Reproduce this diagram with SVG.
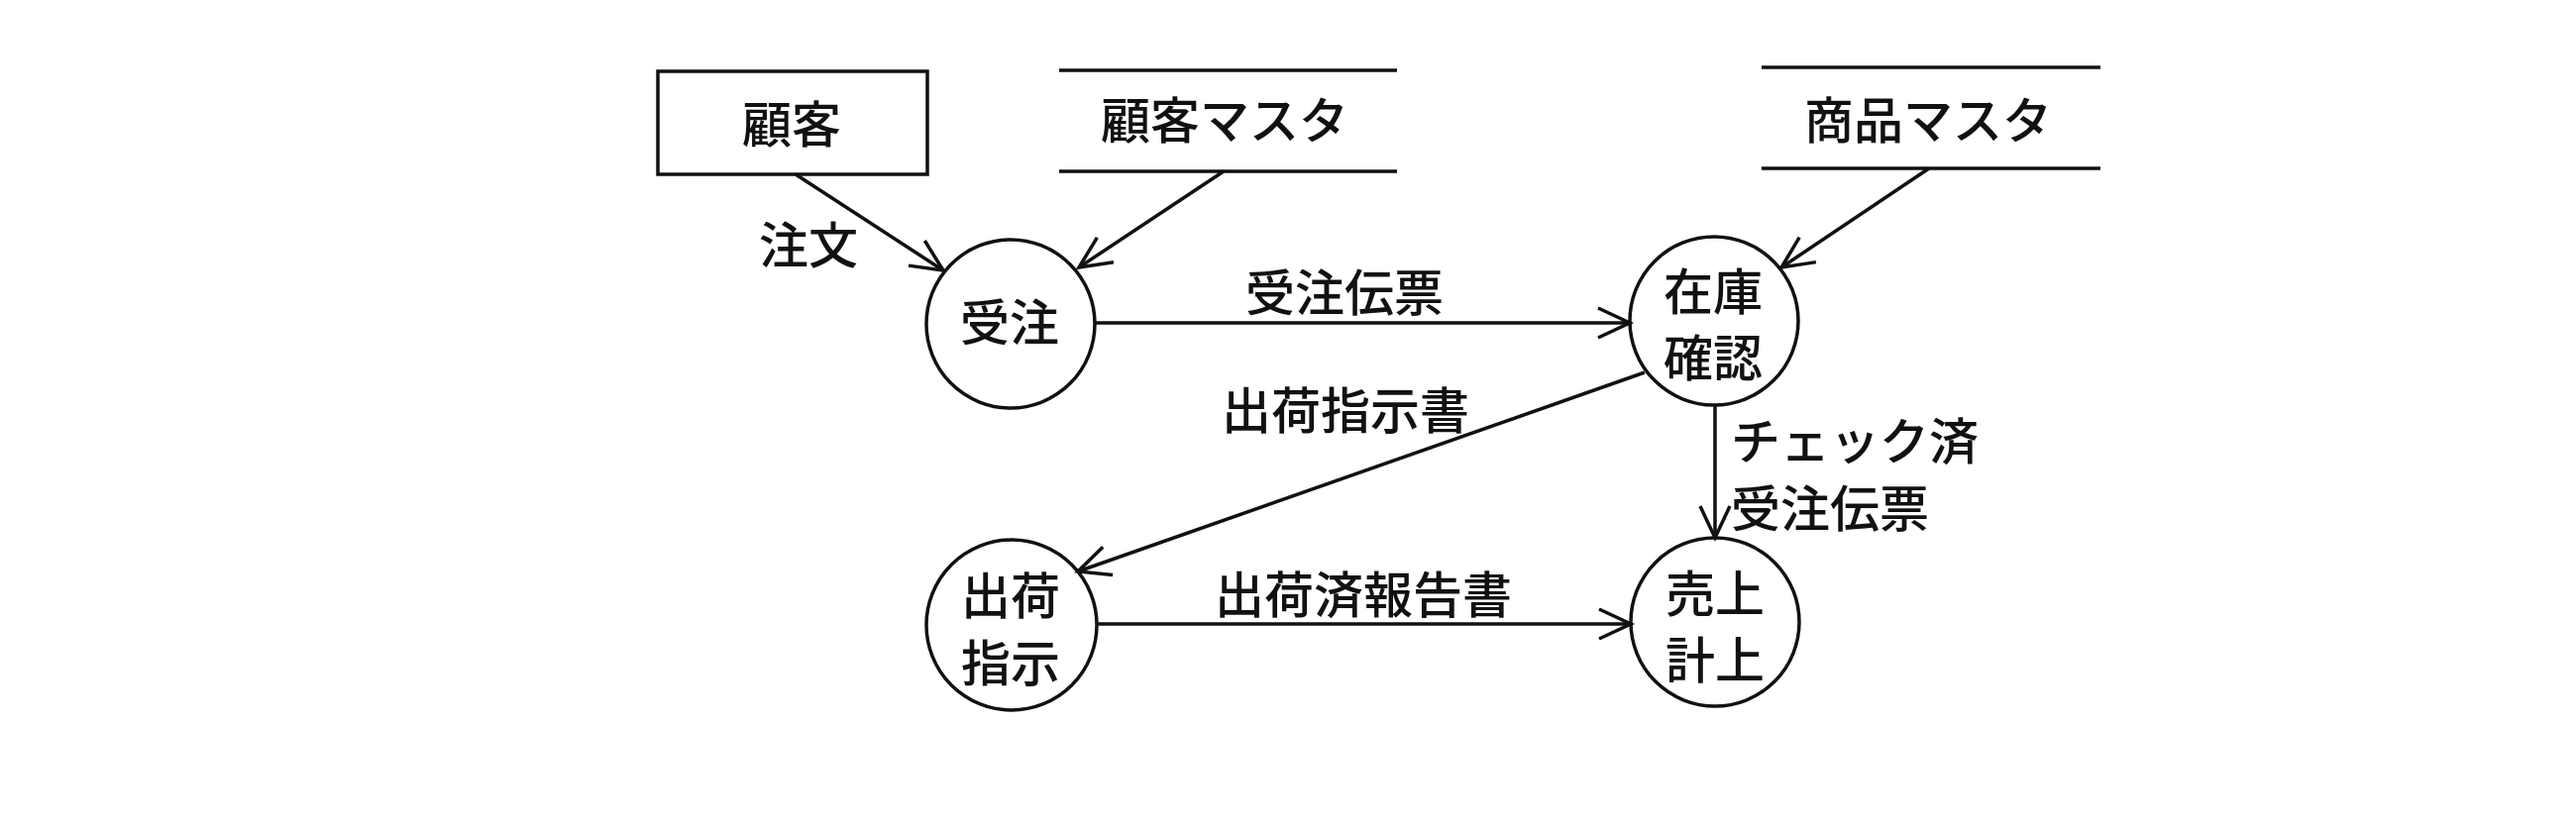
<svg xmlns="http://www.w3.org/2000/svg" width="2600" height="836" viewBox="0 0 2600 836">
  <style>
    .shape { fill: none; stroke: #111; stroke-width: 3.5; }
    .line { fill: none; stroke: #111; stroke-width: 3.5; }
    .conn { fill: none; stroke: #111; stroke-width: 3.5; marker-end: url(#arrow); }
    text { font-family: "Noto Sans CJK JP", "Noto Sans", sans-serif; font-size: 50px; font-weight: 500; fill: #111; dominant-baseline: central; }
    .c { text-anchor: middle; }
    .l { text-anchor: start; }
  </style>
  <defs>
    <marker id="arrow" markerUnits="userSpaceOnUse" viewBox="-40 -20 46 40" refX="0" refY="0" markerWidth="46" markerHeight="40" orient="auto">
      <path d="M -32 -15 L 0 0 L -32 15" fill="none" stroke="#111" stroke-width="3.5"/>
    </marker>
  </defs>
  <rect width="2600" height="836" fill="#fff"/>

  <g id="customer">
    <rect class="shape" x="664" y="72" width="272" height="104"/>
    <text class="c" x="799" y="122">顧客</text>
  </g>
  <g id="customer-master">
    <line class="line" x1="1069" y1="71" x2="1410" y2="71"/>
    <line class="line" x1="1069" y1="173" x2="1410" y2="173"/>
    <text class="c" x="1236" y="118">顧客マスタ</text>
  </g>
  <g id="product-master">
    <line class="line" x1="1778" y1="68" x2="2120" y2="68"/>
    <line class="line" x1="1778" y1="170" x2="2120" y2="170"/>
    <text class="c" x="1946" y="118">商品マスタ</text>
  </g>
  <g id="order-receipt">
    <circle class="shape" cx="1020" cy="327" r="85"/>
    <text class="c" x="1019" y="322">受注</text>
  </g>
  <g id="stock-check">
    <circle class="shape" cx="1730" cy="324" r="85"/>
    <text class="c" x="1729" y="291"><tspan x="1729" y="291">在庫</tspan><tspan x="1729" y="358">確認</tspan></text>
  </g>
  <g id="shipping-instruction">
    <circle class="shape" cx="1021" cy="631" r="86"/>
    <text class="c" x="1020" y="598"><tspan x="1020" y="598">出荷</tspan><tspan x="1020" y="666">指示</tspan></text>
  </g>
  <g id="sales-record">
    <circle class="shape" cx="1731" cy="628" r="85"/>
    <text class="c" x="1731" y="596"><tspan x="1731" y="596">売上</tspan><tspan x="1731" y="663">計上</tspan></text>
  </g>

  <g id="connectors">
    <line class="conn" x1="803" y1="176" x2="952" y2="273"/>
    <line class="conn" x1="1235" y1="173" x2="1089" y2="270"/>
    <line class="conn" x1="1947" y1="170" x2="1798" y2="270"/>
    <line class="conn" x1="1105" y1="326" x2="1645" y2="326"/>
    <line class="conn" x1="1660" y1="376" x2="1088" y2="577"/>
    <line class="conn" x1="1731" y1="409" x2="1731" y2="543"/>
    <line class="conn" x1="1107" y1="630" x2="1646" y2="630"/>
    <text class="c" x="816" y="244">注文</text>
    <text class="c" x="1357" y="292">受注伝票</text>
    <text class="c" x="1358" y="411">出荷指示書</text>
    <text class="l" x="1747" y="442"><tspan x="1747" y="442">チェック済</tspan><tspan x="1747" y="510">受注伝票</tspan></text>
    <text class="c" x="1376" y="597">出荷済報告書</text>
  </g>
</svg>
